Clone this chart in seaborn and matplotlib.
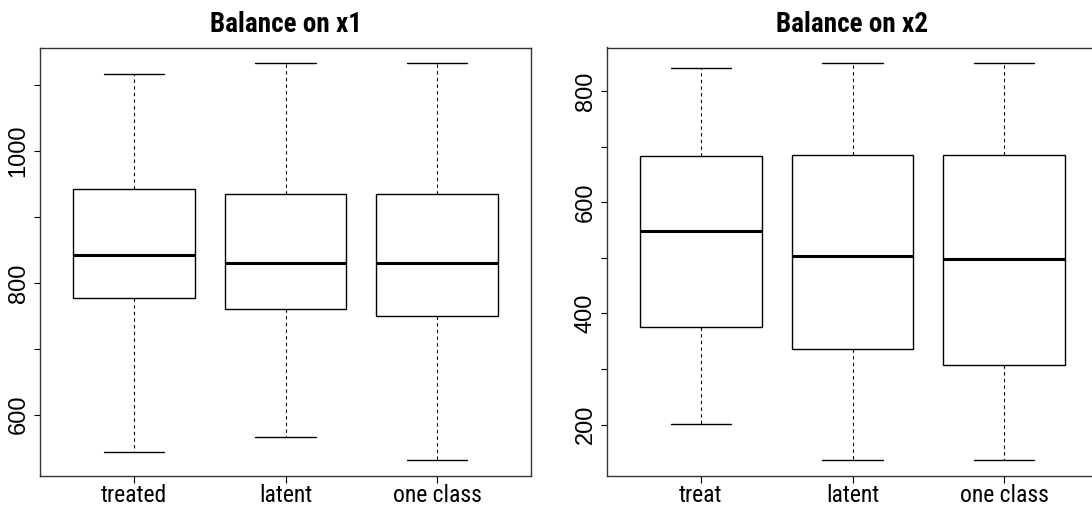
import numpy as np
import pandas as pd
import matplotlib
matplotlib.use("Agg")
import matplotlib.pyplot as plt
import seaborn as sns

# ---- data (five-number summaries) ----
groups_x1 = ["treated", "latent", "one class"]
treated_x1 = [543, 777, 843, 943, 1117]
latent_x1 = [566, 761, 830, 935, 1133]
oneclass_x1 = [531, 750, 830, 935, 1133]

groups_x2 = ["treat", "latent", "one class"]
treat_x2 = [201, 375, 548, 683, 841]
latent_x2 = [136, 336, 504, 685, 850]
oneclass_x2 = [136, 307, 498, 685, 850]

yticks_x1 = [600, 700, 800, 900, 1000, 1100]
ylabels_x1 = ["600", "", "800", "", "1000", ""]
yticks_x2 = [200, 300, 400, 500, 600, 700, 800]
ylabels_x2 = ["200", "", "400", "", "600", "", "800"]

titles = ["Balance on x1", "Balance on x2"]

sns.set_style("white")
NARROW = ["Roboto Condensed", "IBM Plex Sans Condensed", "Liberation Sans", "DejaVu Sans"]
REGULAR = ["Liberation Sans", "DejaVu Sans"]
plt.rcParams["font.family"] = NARROW
plt.rcParams["text.color"] = "black"
plt.rcParams["xtick.color"] = "black"
plt.rcParams["ytick.color"] = "black"

def long_df(groups, series):
    rows = []
    for g, vals in zip(groups, series):
        for v in vals:
            rows.append({"group": g, "value": v})
    return pd.DataFrame(rows)

df1 = long_df(groups_x1, [treated_x1, latent_x1, oneclass_x1])
df2 = long_df(groups_x2, [treat_x2, latent_x2, oneclass_x2])

fig = plt.figure(figsize=(10.92, 5.08), dpi=100)
H = 508.0
W = 1092.0
ax1 = fig.add_axes([40 / W, 1 - 476 / H, (531 - 40) / W, (476 - 47.5) / H])
ax2 = fig.add_axes([607 / W, 1 - 476 / H, (1098 - 607) / W, (476 - 47.5) / H])

def draw(ax, df, groups, yticks, ylabels, title):
    sns.boxplot(data=df, x="group", y="value", order=groups, ax=ax,
                whis=(0, 100), width=0.8, color="white", linecolor="black",
                linewidth=1.0, fill=True, showfliers=False,
                whiskerprops={"linestyle": (0, (3, 3)), "linewidth": 0.8},
                medianprops={"linewidth": 2.2, "color": "black"},
                capprops={"linewidth": 1.0},
                boxprops={"facecolor": "white", "edgecolor": "black"})
    vals = df["value"]
    lo, hi = vals.min(), vals.max()
    r = hi - lo
    ax.set_ylim(lo - 0.04 * r, hi + 0.04 * r)
    ax.set_xlim(-0.62, 2.62)
    ax.set_xlabel("")
    ax.set_ylabel("")
    ax.set_yticks(yticks)
    ax.set_yticklabels(ylabels, rotation=90, va="center",
                       family=REGULAR, fontsize=17, color="black")
    ax.set_xticks(range(len(groups)))
    ax.set_xticklabels(groups, fontsize=17, color="black")
    ax.tick_params(axis="y", direction="out", length=4, width=0.8, pad=3.5,
                   left=True, color="black")
    ax.tick_params(axis="x", direction="out", length=5, width=0.8, pad=0.5,
                   bottom=True, color="black")
    for s in ax.spines.values():
        s.set_visible(True)
        s.set_color("#333333")
        s.set_linewidth(1.0)
    ax.set_title(title, fontsize=19.5, fontweight="bold", pad=11.5, color="black")

draw(ax1, df1, groups_x1, yticks_x1, ylabels_x1, titles[0])
draw(ax2, df2, groups_x2, yticks_x2, ylabels_x2, titles[1])

fig.savefig("out.png", dpi=100, facecolor="white")
